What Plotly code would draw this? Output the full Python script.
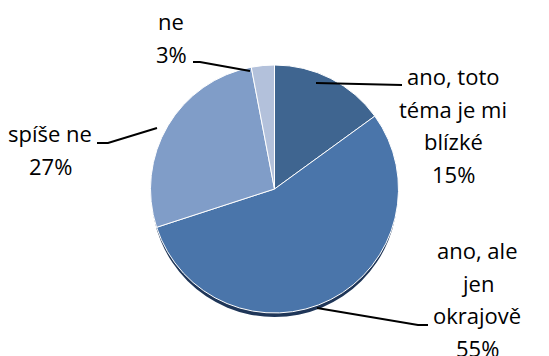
import plotly.graph_objects as go

labels = ["ano, toto téma je mi blízké", "ano, ale jen okrajově", "spíše ne", "ne"]
values = [15, 55, 27, 3]
colors = ["#3f6590", "#4a75aa", "#809dc8", "#b3c1db"]
label_lines = [["ano, toto", "téma je mi", "blízké", "15%"],
               ["ano, ale", "jen", "okrajově", "55%"],
               ["spíše ne", "27%"],
               ["ne", "3%"]]

W, H = 549, 356
cx, cy, r = 274.5, 189, 124

def px(x):
    return x / W

def py(y):
    return 1 - y / H

fig = go.Figure()
# shadow
fig.add_trace(go.Pie(values=[1], marker=dict(colors=["#1f3658"]), textinfo="none", hoverinfo="skip",
                     sort=False, showlegend=False,
                     domain=dict(x=[px(cx - r + 1), px(cx + r - 1)], y=[py(cy + r + 4), py(cy - r + 6)])))
fig.add_trace(go.Pie(labels=labels, values=values, sort=False, direction="clockwise", rotation=0,
                     marker=dict(colors=colors, line=dict(color="white", width=1)),
                     textinfo="none", showlegend=False,
                     domain=dict(x=[px(cx - r), px(cx + r)], y=[py(cy + r), py(cy - r)])))

font = dict(family="Open Sans, sans-serif", size=22, color="black")
ann_pos = [(453, 76), (477, 250), (50, 133), (171, 21)]
spacing = 32.5
for lines, (x, y0) in zip(label_lines, ann_pos):
    for i, t in enumerate(lines):
        fig.add_annotation(x=px(x), y=py(y0 + i * spacing), xref="paper", yref="paper", text=t,
                           showarrow=False, font=font, align="center",
                           xanchor="center", yanchor="middle")

leaders = [
    [(316, 83), (402, 85)],
    [(317, 308), (418, 325), (428, 325)],
    [(157, 128), (108, 143), (97, 143)],
    [(250, 71), (200, 62), (193, 62)],
]
for pts in leaders:
    path = "M " + " L ".join(f"{px(x)},{py(y)}" for x, y in pts)
    fig.add_shape(type="path", path=path, xref="paper", yref="paper",
                  line=dict(color="black", width=2))

fig.update_layout(width=W, height=H, margin=dict(l=0, r=0, t=0, b=0),
                  paper_bgcolor="white", plot_bgcolor="white")
fig.write_html("out.html")
